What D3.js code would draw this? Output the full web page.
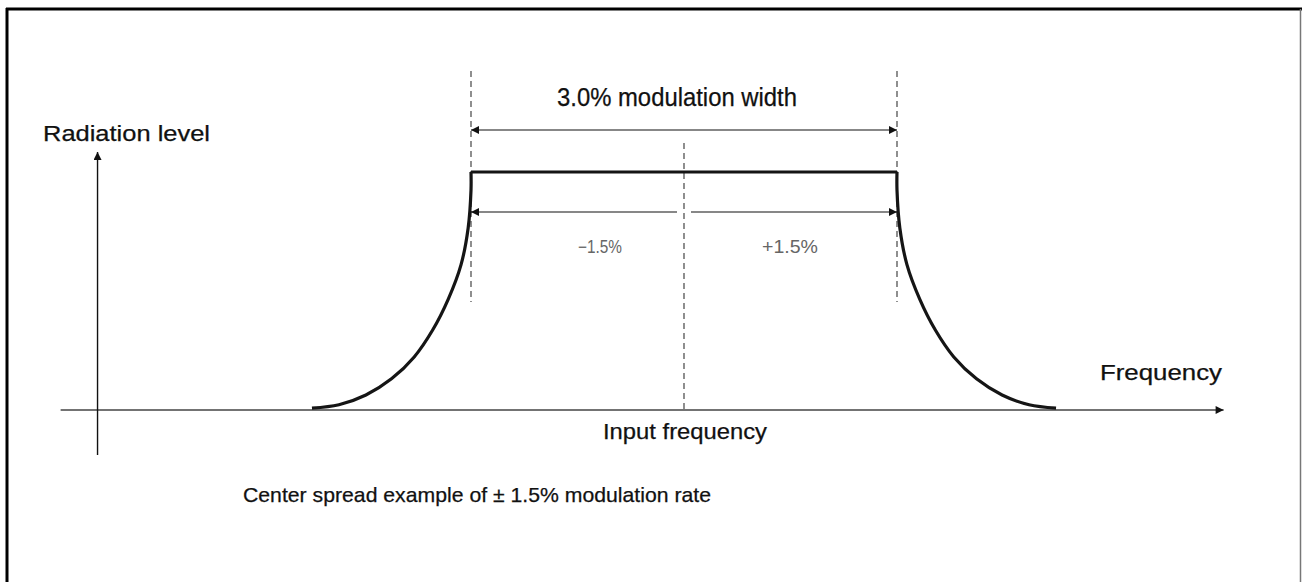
<!DOCTYPE html>
<html><head><meta charset="utf-8">
<script src="https://cdn.jsdelivr.net/npm/d3@7/dist/d3.min.js"></script>
<style>html,body{margin:0;padding:0;background:#fff;overflow:hidden}svg{display:block}</style>
</head><body>
<script>
// Data: x = deviation from input frequency (%), y = relative radiation level
const leftEdge = [[-2.62,0.008],[-2.43,0.022],[-2.24,0.063],[-2.06,0.131],[-1.90,0.223],[-1.77,0.336],[-1.66,0.466],[-1.57,0.611],[-1.52,0.765],[-1.50,0.924],[-1.50,1.0]];
const plateau = [[-1.5,1.0],[1.5,1.0]];
const rightEdge = [[1.50,1.0],[1.50,0.924],[1.52,0.765],[1.57,0.611],[1.66,0.466],[1.77,0.336],[1.90,0.223],[2.06,0.131],[2.24,0.063],[2.43,0.022],[2.62,0.008]];
const spreadBounds = [-1.5, 1.5];
const centerFreq = 0;
const labels = {
  y: "Radiation level", x: "Frequency", center: "Input frequency",
  width: "3.0% modulation width", minus: "\u22121.5%", plus: "+1.5%",
  caption: "Center spread example of \u00b1 1.5% modulation rate"
};

const W = 1302, H = 582;
const svg = d3.select("body").append("svg").attr("width", W).attr("height", H);
const x = d3.scaleLinear().domain([-1.5, 1.5]).range([471, 897]);
const y = d3.scaleLinear().domain([0, 1]).range([410, 172]);

const defs = svg.append("defs");
defs.append("marker").attr("id","ah").attr("viewBox","0 0 10 10").attr("refX",10).attr("refY",5)
  .attr("markerWidth",11).attr("markerHeight",8).attr("markerUnits","userSpaceOnUse").attr("orient","auto-start-reverse")
  .append("path").attr("d","M0,0L10,5L0,10z").attr("fill","#111");

// frame
svg.append("line").attr("x1",7).attr("x2",7).attr("y1",8).attr("y2",H).attr("stroke","#000").attr("stroke-width",3);
svg.append("line").attr("x1",6).attr("x2",W).attr("y1",9).attr("y2",9).attr("stroke","#000").attr("stroke-width",3);
svg.append("line").attr("x1",1300.5).attr("x2",1300.5).attr("y1",9).attr("y2",H).attr("stroke","#777").attr("stroke-width",1.5);

// axes
svg.append("line").attr("x1",x(-4.39)).attr("x2",x(3.80)).attr("y1",y(0)).attr("y2",y(0))
  .attr("stroke","#444").attr("stroke-width",1.6).attr("marker-end","url(#ah)");
svg.append("line").attr("x1",x(-4.13)).attr("x2",x(-4.13)).attr("y1",455).attr("y2",152)
  .attr("stroke","#111").attr("stroke-width",1.4).attr("marker-end","url(#ah)");

// dashed guides
const dash = svg.append("g").attr("stroke","#333").attr("stroke-width",1.1).attr("stroke-dasharray","6,4");
spreadBounds.forEach(v => dash.append("line").attr("x1",x(v)).attr("x2",x(v)).attr("y1",71).attr("y2",302));
dash.append("line").attr("x1",x(centerFreq)).attr("x2",x(centerFreq)).attr("y1",143).attr("y2",y(0));

// dimension arrows
svg.append("line").attr("x1",x(-1.5)).attr("x2",x(1.5)).attr("y1",130).attr("y2",130)
  .attr("stroke","#111").attr("stroke-width",1.2).attr("marker-start","url(#ah)").attr("marker-end","url(#ah)");
svg.append("line").attr("x1",x(centerFreq)-7).attr("x2",x(-1.5)).attr("y1",212).attr("y2",212)
  .attr("stroke","#111").attr("stroke-width",1.2).attr("marker-end","url(#ah)");
svg.append("line").attr("x1",x(centerFreq)+7).attr("x2",x(1.5)).attr("y1",212).attr("y2",212)
  .attr("stroke","#111").attr("stroke-width",1.2).attr("marker-end","url(#ah)");

// spectrum curve
const smooth = d3.line().x(d=>x(d[0])).y(d=>y(d[1])).curve(d3.curveCatmullRom.alpha(0.5));
const lineLin = d3.line().x(d=>x(d[0])).y(d=>y(d[1]));
const curveStyle = s => s.attr("fill","none").attr("stroke","#151515").attr("stroke-width",3.2).attr("stroke-linejoin","miter");
svg.append("path").attr("d", smooth(leftEdge)).call(curveStyle);
svg.append("path").attr("d", lineLin(plateau)).call(curveStyle);
svg.append("path").attr("d", smooth(rightEdge)).call(curveStyle);

// text
const ff = "Liberation Sans, Arial, sans-serif";
function txt(t, xx, yy, size, len, fill, sw){
  const e = svg.append("text").attr("x",xx).attr("y",yy).attr("font-family",ff).attr("font-size",size)
    .attr("fill",fill||"#111").attr("stroke",fill||"#111").attr("stroke-width",sw===undefined?0.25:sw).text(t);
  if (len) e.attr("textLength",len).attr("lengthAdjust","spacingAndGlyphs");
  return e;
}
txt(labels.width, 557, 106, 25, 240);
txt(labels.y, 43, 141, 21.5, 167);
txt(labels.minus, 578, 253, 18, 44, "#666", 0);
txt(labels.plus, 762, 253, 18, 56, "#666", 0);
txt(labels.x, 1100, 380, 21.5, 122);
txt(labels.center, 603, 439, 21.5, 164);
txt(labels.caption, 243, 502, 21, 468);
</script>
</body></html>
